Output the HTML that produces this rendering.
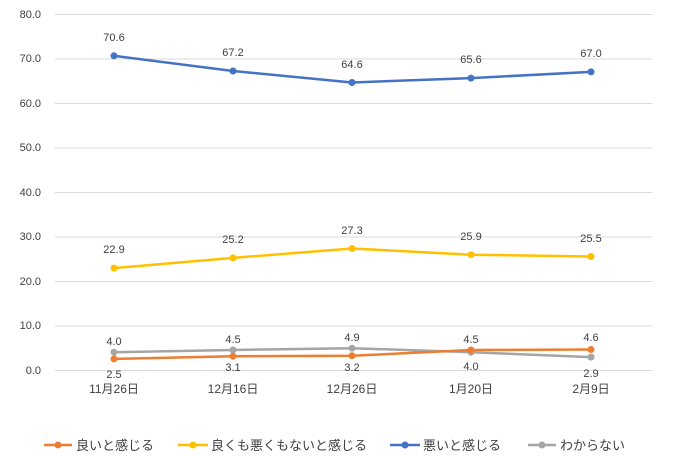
<!DOCTYPE html>
<html><head><meta charset="utf-8"><style>body{margin:0;background:#fff}svg{display:block}text{font-family:"Liberation Sans","Noto Sans CJK JP",sans-serif;fill:#404040;font-size:11px}text.x{font-size:12px}text.l{font-size:13px}</style></head><body>
<svg width="674" height="456" viewBox="0 0 674 456">
<g stroke="#d9d9d9" stroke-width="1">
<line x1="55" x2="652" y1="14.5" y2="14.5"/><line x1="55" x2="652" y1="59" y2="59"/><line x1="55" x2="652" y1="103.5" y2="103.5"/><line x1="55" x2="652" y1="148" y2="148"/><line x1="55" x2="652" y1="192.5" y2="192.5"/><line x1="55" x2="652" y1="237" y2="237"/><line x1="55" x2="652" y1="281.5" y2="281.5"/><line x1="55" x2="652" y1="326" y2="326"/><line x1="55" x2="652" y1="370.5" y2="370.5"/>
</g>
<g text-anchor="end"><text x="41" y="18">80.0</text><text x="41" y="62">70.0</text><text x="41" y="107">60.0</text><text x="41" y="151">50.0</text><text x="41" y="196">40.0</text><text x="41" y="240">30.0</text><text x="41" y="285">20.0</text><text x="41" y="329">10.0</text><text x="41" y="374">0.0</text></g>
<g text-anchor="middle"><text class="x" x="114" y="393">11月26日</text><text class="x" x="233" y="393">12月16日</text><text class="x" x="352" y="393">12月26日</text><text class="x" x="471" y="393">1月20日</text><text class="x" x="591" y="393">2月9日</text></g>
<g fill="none" stroke-width="2.5" stroke-linejoin="round">
<polyline stroke="#4472c4" points="114,55.8 233,71 352,82.5 471,78.1 591,71.9"/>
<polyline stroke="#ffc000" points="114,268.1 233,257.9 352,248.5 471,254.7 591,256.5"/>
<polyline stroke="#a5a5a5" points="114,352.2 233,350 352,348.2 471,352.2 591,357.1"/>
<polyline stroke="#ed7d31" points="114,358.9 233,356.2 352,355.8 471,350 591,349.5"/>
</g>
<g fill="#4472c4"><circle cx="114" cy="55.8" r="3.5"/><circle cx="233" cy="71" r="3.5"/><circle cx="352" cy="82.5" r="3.5"/><circle cx="471" cy="78.1" r="3.5"/><circle cx="591" cy="71.9" r="3.5"/></g>
<g fill="#ffc000"><circle cx="114" cy="268.1" r="3.5"/><circle cx="233" cy="257.9" r="3.5"/><circle cx="352" cy="248.5" r="3.5"/><circle cx="471" cy="254.7" r="3.5"/><circle cx="591" cy="256.5" r="3.5"/></g>
<g fill="#a5a5a5"><circle cx="114" cy="352.2" r="3.5"/><circle cx="233" cy="350" r="3.5"/><circle cx="352" cy="348.2" r="3.5"/><circle cx="471" cy="352.2" r="3.5"/><circle cx="591" cy="357.1" r="3.5"/></g>
<g fill="#ed7d31"><circle cx="114" cy="358.9" r="3.5"/><circle cx="233" cy="356.2" r="3.5"/><circle cx="352" cy="355.8" r="3.5"/><circle cx="471" cy="350" r="3.5"/><circle cx="591" cy="349.5" r="3.5"/></g>
<g text-anchor="middle">
<text x="114" y="41">70.6</text><text x="233" y="56">67.2</text><text x="352" y="68">64.6</text><text x="471" y="63">65.6</text><text x="591" y="57">67.0</text>
<text x="114" y="253">22.9</text><text x="233" y="243">25.2</text><text x="352" y="234">27.3</text><text x="471" y="240">25.9</text><text x="591" y="242">25.5</text>
<text x="114" y="345">4.0</text><text x="233" y="343">4.5</text><text x="352" y="341">4.9</text><text x="471" y="343">4.5</text><text x="591" y="341">4.6</text>
<text x="114" y="378">2.5</text><text x="233" y="371">3.1</text><text x="352" y="371">3.2</text><text x="471" y="370">4.0</text><text x="591" y="377">2.9</text>
</g>
<g stroke-width="2.5">
<line x1="44" x2="72" y1="445" y2="445" stroke="#ed7d31"/><circle cx="58" cy="445" r="3.5" fill="#ed7d31"/>
<line x1="178" x2="208" y1="445" y2="445" stroke="#ffc000"/><circle cx="193" cy="445" r="3.5" fill="#ffc000"/>
<line x1="390" x2="420" y1="445" y2="445" stroke="#4472c4"/><circle cx="405" cy="445" r="3.5" fill="#4472c4"/>
<line x1="528" x2="556" y1="445" y2="445" stroke="#a5a5a5"/><circle cx="542" cy="445" r="3.5" fill="#a5a5a5"/>
</g>
<text class="l" x="76" y="450">良いと感じる</text><text class="l" x="211" y="450">良くも悪くもないと感じる</text><text class="l" x="423" y="450">悪いと感じる</text><text class="l" x="560" y="450">わからない</text>
</svg>
</body></html>
